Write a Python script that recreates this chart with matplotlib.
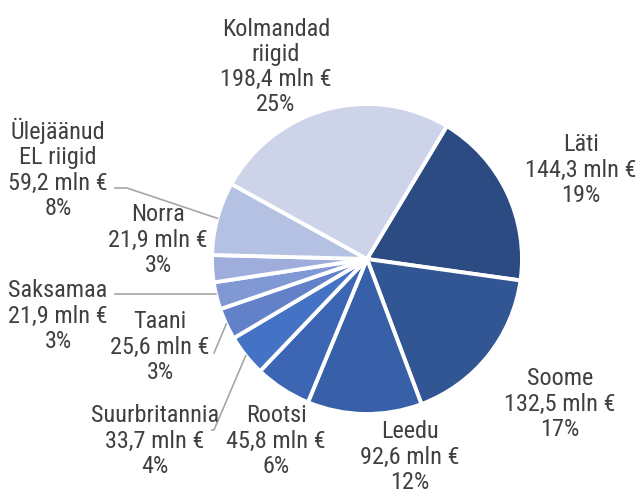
import numpy as np
import matplotlib.pyplot as plt

# Data (clockwise from the top right)
names = ['Läti', 'Soome', 'Leedu', 'Rootsi', 'Suurbritannia', 'Taani',
         'Saksamaa', 'Norra', 'Ülejäänud\nEL riigid', 'Kolmandad\nriigid']
values = [144.3, 132.5, 92.6, 45.8, 33.7, 25.6, 21.9, 21.9, 59.2, 198.4]
pcts = [19, 17, 12, 6, 4, 3, 3, 3, 8, 25]
colors = ['#2b4b82', '#325694', '#3860a8', '#3c66b3', '#4472c4', '#6281c9',
          '#8098d3', '#9eaddc', '#b4c1e3', '#cdd3e8']

plt.rcParams['font.family'] = ['Roboto Condensed', 'Roboto', 'DejaVu Sans']

W, H = 638, 493
fig = plt.figure(figsize=(W / 100, H / 100), dpi=100)
ax = fig.add_axes([0, 0, 1, 1])

cx, cy, r = 367, H - 259, 155
start = 59
wedges, _ = ax.pie(values, colors=colors, startangle=start, counterclock=False,
                   center=(cx, cy), radius=r, frame=True,
                   wedgeprops=dict(edgecolor='white', linewidth=2.8))
ax.set_xlim(0, W)
ax.set_ylim(0, H)
ax.set_aspect('equal')
ax.axis('off')

# label centres in pixel coordinates (y from top)
label_pos = [(581, 170), (560, 404), (410, 457), (276, 441), (155, 441),
             (160, 347), (58, 316), (158, 240), (58, 169), (276, 67)]

txt_color = '#404040'
for name, v, p, (lx, ly) in zip(names, values, pcts, label_pos):
    s = f"{name}\n{v:.1f}".replace('.', ',') + f" mln €\n{p}%"
    ax.text(lx, H - ly, s, ha='center', va='center', fontsize=17.5,
            color=txt_color, linespacing=1.12)

# leader lines
def edge_point(i):
    w = wedges[i]
    a = np.deg2rad((w.theta1 + w.theta2) / 2)
    return cx + r * np.cos(a), cy + r * np.sin(a)

line_kw = dict(color='#a6a6a6', linewidth=1.2)
# Ülejäänud EL riigid
ex, ey = edge_point(8)
ax.plot([115, 127, ex], [H - 188, H - 188, ey], **line_kw)
# Saksamaa (horizontal to the wedge edge)
sy = H - 294
sx = cx - np.sqrt(r ** 2 - (sy - cy) ** 2)
ax.plot([115, sx], [sy, sy], **line_kw)
# Taani
ex, ey = edge_point(5)
ax.plot([214, ex], [H - 353, ey], **line_kw)
# Suurbritannia
ex, ey = edge_point(4)
ax.plot([212, 214, ex], [H - 430, H - 430, ey], **line_kw)

fig.savefig('out.png', dpi=100)
